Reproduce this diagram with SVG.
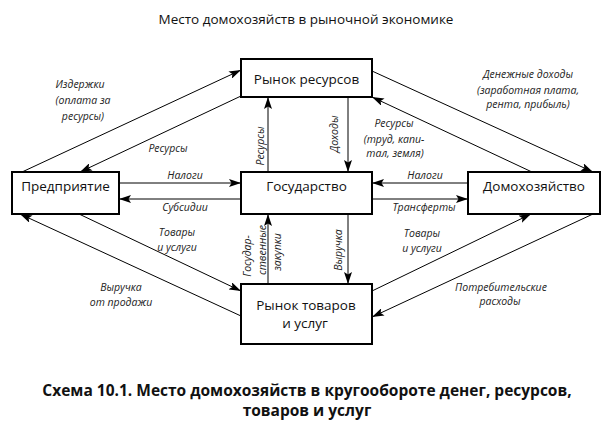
<svg xmlns="http://www.w3.org/2000/svg" width="610" height="421" viewBox="0 0 610 421">
<defs>
<style>
.box{fill:#fff;stroke:#000;stroke-width:2}
.bt{font-family:"Open Sans","Liberation Sans",sans-serif;font-size:13.5px;fill:#111;text-anchor:middle}
.lb{font-family:"Open Sans","Liberation Sans",sans-serif;font-size:10.5px;font-style:italic;fill:#222;text-anchor:middle}
.ln{fill:none;stroke:#000;stroke-width:1;marker-end:url(#ah)}
.title{font-family:"Open Sans","Liberation Sans",sans-serif;font-size:13.5px;fill:#111;text-anchor:middle}
.cap{font-family:"Open Sans","Liberation Sans",sans-serif;font-size:15.5px;font-weight:bold;fill:#111;text-anchor:middle}
</style>
<marker id="ah" viewBox="0 0 12 8" refX="12" refY="4" markerWidth="12" markerHeight="8" markerUnits="userSpaceOnUse" orient="auto">
<path d="M0,0 L12,4 L0,8 L2.5,4 z" fill="#000"/>
</marker>
</defs>
<rect width="610" height="421" fill="#fff"/>
<text class="title" x="306" y="24">Место домохозяйств в рыночной экономике</text>
<g id="connectors">
<path class="ln" d="M22,172 L241,70"/>
<path class="ln" d="M241,96 L80,172"/>
<path class="ln" d="M372,71 L593,172"/>
<path class="ln" d="M532,172 L372,97"/>
<path class="ln" d="M79,214 L241,291"/>
<path class="ln" d="M241,316 L20,214"/>
<path class="ln" d="M372,291 L531,214"/>
<path class="ln" d="M593,214 L372,317"/>
<path class="ln" d="M268,172 L268,97"/>
<path class="ln" d="M348,97 L348,172"/>
<path class="ln" d="M268,284 L268,214"/>
<path class="ln" d="M348,214 L348,284"/>
<path class="ln" d="M119,183 L241,183"/>
<path class="ln" d="M241,199 L119,199"/>
<path class="ln" d="M468,183 L372,183"/>
<path class="ln" d="M372,199 L468,199"/>
</g>
<g id="labels">
<text class="lb" x="80" y="88">Издержки</text>
<text class="lb" x="83" y="104">(оплата за</text>
<text class="lb" x="83" y="120">ресурсы)</text>
<text class="lb" x="168" y="152">Ресурсы</text>
<text class="lb" x="185" y="179">Налоги</text>
<text class="lb" x="185" y="211">Субсидии</text>
<text class="lb" x="528" y="78">Денежные доходы</text>
<text class="lb" x="528" y="94">(заработная плата,</text>
<text class="lb" x="528" y="108">рента, прибыль)</text>
<text class="lb" x="394" y="127">Ресурсы</text>
<text class="lb" x="394" y="143">(труд, капи-</text>
<text class="lb" x="395" y="157">тал, земля)</text>
<text class="lb" x="425" y="179">Налоги</text>
<text class="lb" x="424" y="211">Трансферты</text>
<text class="lb" x="177" y="236">Товары</text>
<text class="lb" x="177" y="251">и услуги</text>
<text class="lb" x="121" y="291">Выручка</text>
<text class="lb" x="121" y="306">от продажи</text>
<text class="lb" x="422" y="237">Товары</text>
<text class="lb" x="422" y="252">и услуги</text>
<text class="lb" x="501" y="291">Потребительские</text>
<text class="lb" x="500" y="305">расходы</text>
<text class="lb" transform="translate(264,146) rotate(-90)">Ресурсы</text>
<text class="lb" transform="translate(338,134) rotate(-90)">Доходы</text>
<text class="lb" transform="translate(251,256) rotate(-90)">Государ-</text>
<text class="lb" transform="translate(266,250) rotate(-90)">ственные</text>
<text class="lb" transform="translate(281,252) rotate(-90)">закупки</text>
<text class="lb" transform="translate(342,250) rotate(-90)">Выручка</text>
</g>
<g id="n-resmarket"><rect class="box" x="241" y="59" width="131" height="38"/><text class="bt" x="306.5" y="84">Рынок ресурсов</text></g>
<g id="n-gov"><rect class="box" x="241" y="172" width="131" height="42"/><text class="bt" x="306.5" y="191">Государство</text></g>
<g id="n-goods"><rect class="box" x="241" y="284" width="131" height="60"/><text class="bt" x="306" y="310">Рынок товаров</text><text class="bt" x="305" y="328">и услуг</text></g>
<g id="n-ent"><rect class="box" x="12" y="172" width="107" height="42"/><text class="bt" x="65.5" y="191">Предприятие</text></g>
<g id="n-hh"><rect class="box" x="468" y="172" width="132" height="42"/><text class="bt" x="534" y="191">Домохозяйство</text></g>
<text class="cap" x="307" y="396">Схема 10.1. Место домохозяйств в кругообороте денег, ресурсов,</text>
<text class="cap" x="307" y="416">товаров и услуг</text>
</svg>
